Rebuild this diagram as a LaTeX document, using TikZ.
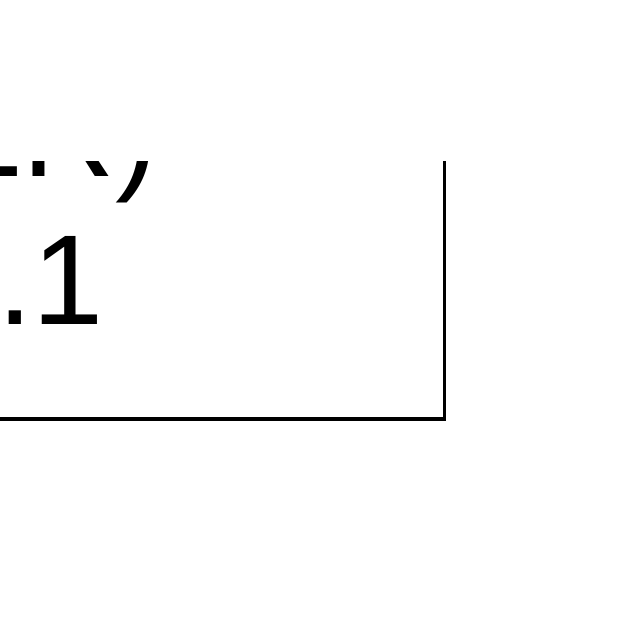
\documentclass[tikz,border=0pt]{standalone}
\usepackage{fontspec}
\setmainfont{Liberation Sans}
\begin{document}
\begin{tikzpicture}[x=1pt,y=1pt,
  boxline/.style={draw=black,line width=3.5pt,fill=none},
  bigtext/.style={inner sep=0pt,outer sep=0pt,font=\fontsize{128}{147}\selectfont,text=black}]
\useasboundingbox (0,0) rectangle (640,640);
\clip (0,0) rectangle (640,478);
\node[boxline,inner sep=0pt,outer sep=0pt,minimum width=845pt,minimum height=600pt,anchor=south east] (box) at (444.5,221) {};
\node[bigtext,anchor=base east] (line1) at (158,463) {ER)};
\node[bigtext,anchor=base east] (line2) at (104,315) {.1};
\end{tikzpicture}
\end{document}
